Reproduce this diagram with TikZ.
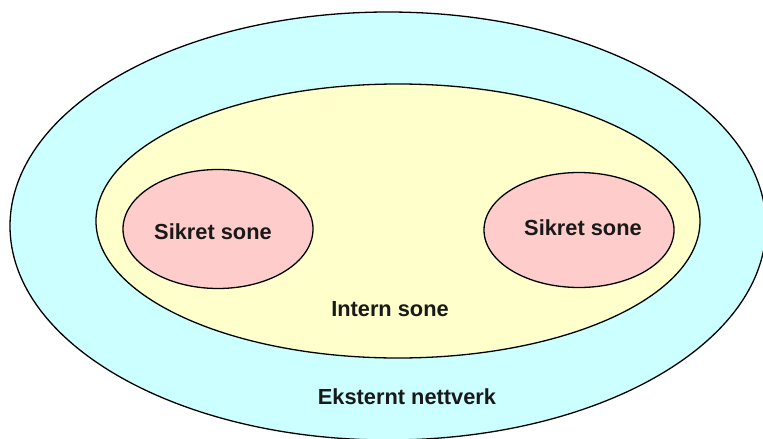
\documentclass[tikz,border=0pt]{standalone}
\usepackage{fontspec}
\setmainfont{Liberation Sans}
\usetikzlibrary{shapes.geometric}
\definecolor{extcyan}{RGB}{204,255,255}
\definecolor{intyellow}{RGB}{255,255,204}
\definecolor{secpink}{RGB}{255,204,204}

\begin{document}
\begin{tikzpicture}[x=1pt,y=-1pt,
    zone/.style={ellipse, draw=black, line width=1.3pt, inner sep=0pt},
    zonetext/.style={font=\fontsize{21.8}{26}\selectfont\bfseries, text=black!90}]
      \useasboundingbox (0,0) rectangle (763,439);
      \clip (0,0) rectangle (763,439);
      \node[zone, fill=extcyan, minimum width=756pt, minimum height=428pt] (ekstern) at (388,226) {};
      \node[zone, fill=intyellow, minimum width=604pt, minimum height=274pt] (intern) at (398,221) {};
      \node[zone, fill=secpink, minimum width=190pt, minimum height=119pt] (sikret1) at (218,229) {};
      \node[zone, fill=secpink, minimum width=190pt, minimum height=115pt] (sikret2) at (579,230) {};
      \node[zonetext] (sikret1text) at (213,232) {Sikret sone};
      \node[zonetext] (sikret2text) at (583,228) {Sikret sone};
      \node[zonetext] (interntext) at (390,309) {Intern sone};
      \node[zonetext] (eksterntext) at (407,397) {Eksternt nettverk};
    \end{tikzpicture}
\end{document}
